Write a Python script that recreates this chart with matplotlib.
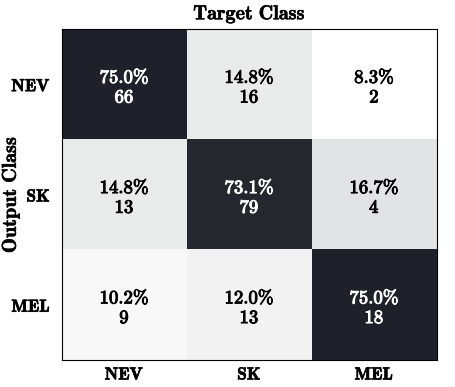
import matplotlib
matplotlib.use("Agg")
import matplotlib.pyplot as plt
import matplotlib.patheffects as pe
from matplotlib.colors import LinearSegmentedColormap
import numpy as np

plt.rcParams['mathtext.fontset'] = 'cm'

classes = ["NEV", "SK", "MEL"]
# rows = output class, columns = target class
counts = np.array([
    [66, 16, 2],
    [13, 79, 4],
    [9, 13, 18],
])

pct = 100.0 * counts / counts.sum(axis=0, keepdims=True)

cmap = LinearSegmentedColormap.from_list("cm_gray", ["#ffffff", "#1f212a"])

def heavy(c, w=0.7):
    # cmb10 is lighter than the cmbx look of the original, thicken a bit
    return [pe.withStroke(linewidth=w, foreground=c)]

fig = plt.figure(figsize=(4.56, 3.87), dpi=100)
ax = fig.add_axes([0.136, 0.07, 0.822, 0.855])
ax.imshow(pct, cmap=cmap, vmin=pct.min(), vmax=pct.max(), aspect='auto')

for i in range(len(classes)):
    for j in range(len(classes)):
        col = 'white' if pct[i, j] > 50 else 'black'
        txt = r'$\mathbf{%.1f\%%}$' % pct[i, j] + '\n' + r'$\mathbf{%d}$' % counts[i, j]
        ax.text(j, i + 0.02, txt, ha='center', va='center', color=col,
                fontsize=13.5, linespacing=1.05, path_effects=heavy(col))

ax.set_xticks(range(len(classes)))
ax.set_yticks(range(len(classes)))
ax.set_xticklabels([r'$\mathbf{%s}$' % c for c in classes], fontsize=12.5)
ax.set_yticklabels([r'$\mathbf{%s}$' % c for c in classes], fontsize=12.5)
for lbl in ax.get_xticklabels() + ax.get_yticklabels():
    lbl.set_path_effects(heavy('black', 0.5))
ax.tick_params(length=0)
ax.tick_params(axis='x', pad=4)
ax.tick_params(axis='y', pad=8)
ax.set_title(r'$\mathbf{Target\ Class}$', fontsize=14.5, pad=7,
             path_effects=heavy('black', 0.4))
ax.set_ylabel(r'$\mathbf{Output\ Class}$', fontsize=14.5,
              path_effects=heavy('black', 0.4))
ax.yaxis.set_label_coords(-0.107, 0.5)

fig.savefig("out.png", dpi=100)
